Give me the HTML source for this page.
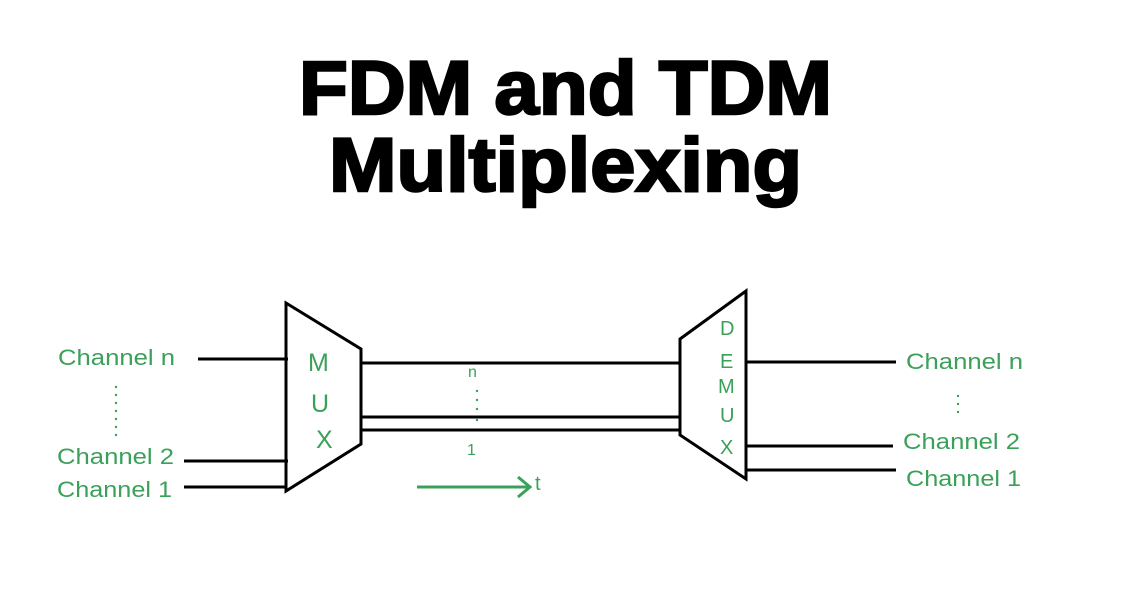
<!DOCTYPE html>
<html><head><meta charset="utf-8"><style>
html,body{margin:0;padding:0;background:#fff;}
body{width:1133px;height:600px;overflow:hidden;position:relative;font-family:"Liberation Sans",sans-serif;}
</style></head><body>
<svg width="1133" height="600" style="position:absolute;left:0;top:0" font-family="Liberation Sans, sans-serif">
<g font-weight="bold" font-size="76" fill="#000" stroke="#000" stroke-width="2.5">
<text x="299" y="114" textLength="533" lengthAdjust="spacingAndGlyphs">FDM and TDM</text>
<text x="329" y="191" textLength="473" lengthAdjust="spacingAndGlyphs">Multiplexing</text>
</g>
<g stroke="#000" stroke-width="3" fill="none">
<polygon points="286,303 361,349 361,444 286,491"/>
<polygon points="680,339 746,291 746,479 680,435"/>
<line x1="198" y1="359" x2="288" y2="359"/>
<line x1="184" y1="461" x2="288" y2="461"/>
<line x1="184" y1="487" x2="286" y2="487"/>
<line x1="361" y1="363" x2="680" y2="363"/>
<line x1="361" y1="417" x2="680" y2="417"/>
<line x1="361" y1="430" x2="680" y2="430"/>
<line x1="746" y1="362" x2="896" y2="362"/>
<line x1="746" y1="446" x2="893" y2="446"/>
<line x1="746" y1="470" x2="896" y2="470"/>
</g>
<g fill="#3aa05a" font-size="22">
<text x="58" y="365" textLength="117" lengthAdjust="spacingAndGlyphs">Channel n</text>
<text x="57" y="464" textLength="117" lengthAdjust="spacingAndGlyphs">Channel 2</text>
<text x="57" y="497" textLength="115" lengthAdjust="spacingAndGlyphs">Channel 1</text>
<text x="906" y="369" textLength="117" lengthAdjust="spacingAndGlyphs">Channel n</text>
<text x="903" y="449" textLength="117" lengthAdjust="spacingAndGlyphs">Channel 2</text>
<text x="906" y="486" textLength="115" lengthAdjust="spacingAndGlyphs">Channel 1</text>
<text x="308" y="371" font-size="25">M</text>
<text x="311" y="412" font-size="25">U</text>
<text x="316" y="448" font-size="25">X</text>
<text x="720" y="335" font-size="20">D</text>
<text x="720" y="368" font-size="20">E</text>
<text x="718" y="393" font-size="20">M</text>
<text x="720" y="422" font-size="20">U</text>
<text x="720" y="454" font-size="20">X</text>
<text x="468" y="377" font-size="16">n</text>
<text x="467" y="455" font-size="16">1</text>
<text x="535" y="490" font-size="20">t</text>
</g>
<g fill="#3aa05a">
<circle cx="116" cy="387" r="1.2"/><circle cx="116" cy="395" r="1.2"/><circle cx="116" cy="403" r="1.2"/><circle cx="116" cy="411" r="1.2"/><circle cx="116" cy="419" r="1.2"/><circle cx="116" cy="427" r="1.2"/><circle cx="116" cy="435" r="1.2"/>
<circle cx="477" cy="391" r="1.2"/><circle cx="477" cy="400" r="1.2"/><circle cx="477" cy="409" r="1.2"/><circle cx="477" cy="420" r="1.2"/>
<circle cx="958" cy="396" r="1.2"/><circle cx="958" cy="404" r="1.2"/><circle cx="958" cy="412" r="1.2"/>
</g>
<g stroke="#3aa05a" stroke-width="3" fill="none">
<line x1="417" y1="487" x2="530" y2="487"/>
<polyline points="518,477 530,487 518,497"/>
</g>
</svg>
</body></html>
